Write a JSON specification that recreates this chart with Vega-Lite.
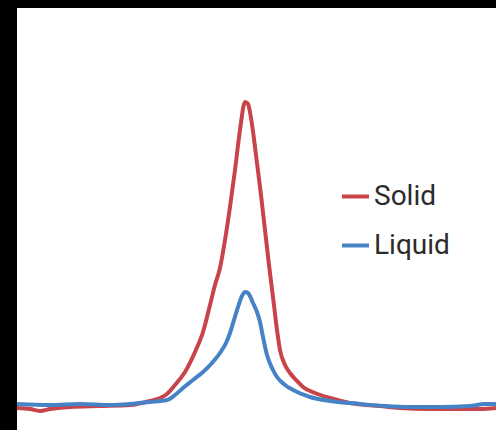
{
  "$schema": "https://vega.github.io/schema/vega-lite/v6.json",
  "width": 496,
  "height": 430,
  "autosize": {"type": "fit", "contains": "padding"},
  "padding": {"top": 8, "left": 17, "right": 0, "bottom": 0},
  "background": "#000000",
  "config": {"view": {"fill": "#ffffff", "stroke": null}},
  "data": {"values": [
    {"s":"Solid","x":17,"y":408},{"s":"Solid","x":30,"y":409},{"s":"Solid","x":40,"y":411},{"s":"Solid","x":50,"y":409},{"s":"Solid","x":70,"y":407},{"s":"Solid","x":100,"y":406},{"s":"Solid","x":130,"y":405},{"s":"Solid","x":150,"y":401},{"s":"Solid","x":160,"y":398},{"s":"Solid","x":167,"y":394},{"s":"Solid","x":175,"y":385},{"s":"Solid","x":185,"y":372},{"s":"Solid","x":195,"y":352},{"s":"Solid","x":203,"y":332},{"s":"Solid","x":210,"y":305},{"s":"Solid","x":215,"y":285},{"s":"Solid","x":220,"y":268},{"s":"Solid","x":225,"y":240},{"s":"Solid","x":230,"y":207},{"s":"Solid","x":235,"y":170},{"s":"Solid","x":240,"y":130},{"s":"Solid","x":245,"y":102},{"s":"Solid","x":248,"y":104},{"s":"Solid","x":251,"y":118},{"s":"Solid","x":257,"y":163},{"s":"Solid","x":261,"y":195},{"s":"Solid","x":265,"y":230},{"s":"Solid","x":269,"y":265},{"s":"Solid","x":273,"y":297},{"s":"Solid","x":277,"y":330},{"s":"Solid","x":280,"y":350},{"s":"Solid","x":285,"y":365},{"s":"Solid","x":290,"y":373},{"s":"Solid","x":297,"y":381},{"s":"Solid","x":303,"y":387},{"s":"Solid","x":315,"y":393},{"s":"Solid","x":330,"y":398},{"s":"Solid","x":350,"y":403},{"s":"Solid","x":380,"y":406},{"s":"Solid","x":400,"y":408},{"s":"Solid","x":430,"y":409},{"s":"Solid","x":460,"y":409},{"s":"Solid","x":480,"y":409},{"s":"Solid","x":496,"y":408},
    {"s":"Liquid","x":17,"y":404},{"s":"Liquid","x":50,"y":405},{"s":"Liquid","x":80,"y":404},{"s":"Liquid","x":110,"y":405},{"s":"Liquid","x":130,"y":404},{"s":"Liquid","x":150,"y":402},{"s":"Liquid","x":167,"y":400},{"s":"Liquid","x":175,"y":395},{"s":"Liquid","x":183,"y":388},{"s":"Liquid","x":193,"y":380},{"s":"Liquid","x":203,"y":372},{"s":"Liquid","x":212,"y":363},{"s":"Liquid","x":220,"y":353},{"s":"Liquid","x":226,"y":343},{"s":"Liquid","x":230,"y":333},{"s":"Liquid","x":234,"y":320},{"s":"Liquid","x":238,"y":307},{"s":"Liquid","x":242,"y":296},{"s":"Liquid","x":245,"y":292},{"s":"Liquid","x":248,"y":293},{"s":"Liquid","x":253,"y":303},{"s":"Liquid","x":257,"y":312},{"s":"Liquid","x":260,"y":322},{"s":"Liquid","x":263,"y":337},{"s":"Liquid","x":267,"y":355},{"s":"Liquid","x":272,"y":368},{"s":"Liquid","x":277,"y":377},{"s":"Liquid","x":285,"y":385},{"s":"Liquid","x":293,"y":390},{"s":"Liquid","x":310,"y":397},{"s":"Liquid","x":330,"y":401},{"s":"Liquid","x":360,"y":404},{"s":"Liquid","x":385,"y":406},{"s":"Liquid","x":410,"y":407},{"s":"Liquid","x":440,"y":407},{"s":"Liquid","x":470,"y":406},{"s":"Liquid","x":485,"y":404},{"s":"Liquid","x":496,"y":404}
  ]},
  "mark": {"type": "line", "strokeWidth": 4, "interpolate": "monotone", "clip": true},
  "encoding": {
    "x": {"field": "x", "type": "quantitative", "scale": {"domain": [17, 496], "nice": false, "zero": false}, "axis": null},
    "y": {"field": "y", "type": "quantitative", "scale": {"domain": [430, 8], "nice": false, "zero": false}, "axis": null},
    "order": {"field": "x"},
    "color": {
      "field": "s", "type": "nominal",
      "scale": {"domain": ["Solid", "Liquid"], "range": ["#c9444a", "#4682c6"]},
      "legend": {
        "title": null, "orient": "none", "legendX": 323, "legendY": 173,
        "symbolType": "stroke", "symbolSize": 729, "symbolStrokeWidth": 4,
        "labelFontSize": 28, "labelFont": "Roboto", "labelColor": "#2b2b2b",
        "labelOffset": 3, "rowPadding": 19, "padding": 0
      }
    }
  }
}
